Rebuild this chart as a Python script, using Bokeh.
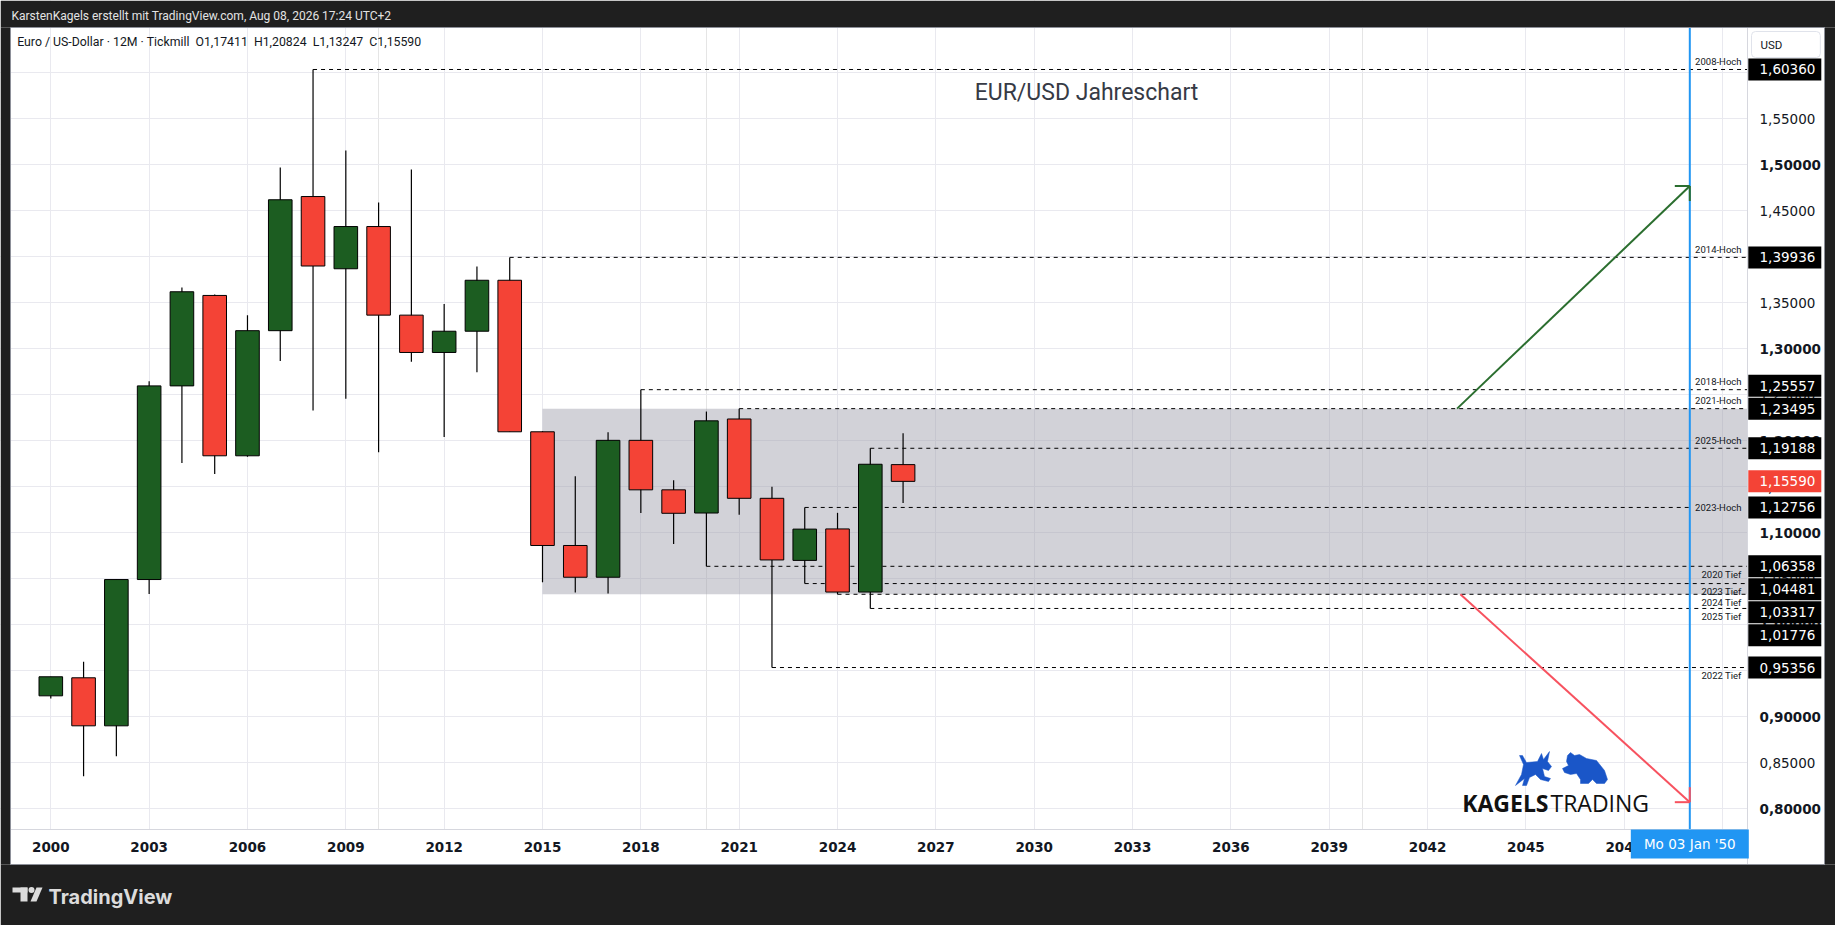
from bokeh.plotting import figure
from bokeh.models import Range1d, FixedTicker, Grid, Label
from bokeh.core.properties import value
from bokeh.embed import file_html
from bokeh.resources import INLINE

# ---------------- data (yearly EUR/USD candles) ----------------
YEARS = list(range(2000, 2027))
OPEN = [0.9228, 0.9424, 0.8902, 1.0492, 1.2597, 1.3580, 1.1837, 1.3197, 1.4655, 1.3870,
        1.4329, 1.3366, 1.2960, 1.3191, 1.3745, 1.2098, 1.0862, 1.0517, 1.2005, 1.1467,
        1.1215, 1.2237, 1.1375, 1.0700, 1.1042, 1.0356, 1.17411]
HIGH = [0.9435, 0.9598, 1.0493, 1.2647, 1.3667, 1.3590, 1.3366, 1.4971, 1.60360, 1.5155,
        1.4590, 1.4949, 1.3487, 1.3894, 1.39936, 1.2105, 1.1616, 1.2092, 1.25557, 1.1570,
        1.2318, 1.23495, 1.1500, 1.12756, 1.1217, 1.19188, 1.20824]
LOW = [0.9200, 0.8354, 0.8572, 1.0335, 1.1760, 1.1640, 1.1827, 1.2867, 1.2330, 1.2457,
       1.1876, 1.2860, 1.2042, 1.2746, 1.2098, 1.0462, 1.0352, 1.0340, 1.1216, 1.0879,
       1.06358, 1.1195, 0.95356, 1.04481, 1.03317, 1.01776, 1.13247]
CLOSE = [0.9435, 0.8902, 1.0492, 1.2597, 1.3620, 1.1837, 1.3197, 1.4620, 1.3900, 1.4329,
         1.3366, 1.2960, 1.3191, 1.3745, 1.2098, 1.0862, 1.0517, 1.2005, 1.1467, 1.1212,
         1.2217, 1.1375, 1.0705, 1.1040, 1.0356, 1.1745, 1.15590]

X_TICKS = list(range(2000, 2052, 3))
Y_TICKS = [0.80, 0.85, 0.90, 0.95, 1.00, 1.05, 1.10, 1.15, 1.20, 1.25,
           1.30, 1.35, 1.40, 1.45, 1.50, 1.55, 1.60]

LEVEL_YEARS = [2008, 2014, 2018, 2021, 2025, 2023, 2020, 2023, 2024, 2025, 2022]
LEVEL_VALUES = [1.60360, 1.39936, 1.25557, 1.23495, 1.19188, 1.12756,
                1.06358, 1.04481, 1.03317, 1.01776, 0.95356]
LEVEL_NAMES = ["2008-Hoch", "2014-Hoch", "2018-Hoch", "2021-Hoch", "2025-Hoch", "2023-Hoch",
               "2020 Tief", "2023 Tief", "2024 Tief", "2025 Tief", "2022 Tief"]
LEVEL_SIDE = ["above", "above", "above", "above", "above", "middle",
              "below", "below", "below", "below", "below"]

ZONE_START_YEAR = 2015
ZONE_TOP = 1.23495
ZONE_BOTTOM = 1.03317

MARKER_YEAR = 2050
MARKER_TEXT = "Mo 03 Jan '50"

ARROW_UP = (2042.9, 1.23495, 2050.0, 1.4770)
ARROW_DOWN = (2043.0, 1.03317, 2050.0, 0.8072)

HEADER = "KarstenKagels erstellt mit TradingView.com, Aug 08, 2026 17:24 UTC+2"
CHART_TITLE = "EUR/USD Jahreschart"
SYMBOL = "Euro / US-Dollar \u00b7 12M \u00b7 Tickmill"
CURRENCY = "USD"

# ---------------- page geometry ----------------
W, H = 1835, 925
X_START, X_END = 1998.4655, 2054.4446
Y_START, Y_END = 0.67315, 1.67859
PPX = W / (X_END - X_START)
PPY = H / (Y_END - Y_START)
# chart panel edges in page pixels
CL, CT, CR, CB = 10, 27, 1747, 829      # plotting area
AR, AB = 1824, 864                      # outer edge of price / time scales


def ax(px):
    return X_START + px / PPX


def ay(py):
    return Y_END - py / PPY


def fmt(v):
    return f"{v:.5f}".replace(".", ",")


DARK = "#1f1f1f"
GREEN = "#1c5d21"
RED = "#f44336"
TEXT = "#131722"
GRID = "#e9e9ef"
AXIS = "#d6d7de"
BLUE = "#2196f3"
ARROW_G = "#2b6e2f"
ARROW_R = "#f7525f"
MONO = value("DejaVu Sans")
NARROW = value("'Liberation Sans Narrow', Roboto")

p = figure(width=W, height=H, x_range=Range1d(X_START, X_END),
           y_range=Range1d(Y_START, Y_END), min_border=0,
           x_axis_location=None, y_axis_location=None,
           output_backend="svg", toolbar_location=None,
           background_fill_color="white", border_fill_color=DARK,
           outline_line_color=None)

p.add_layout(Grid(dimension=0, ticker=FixedTicker(ticks=X_TICKS), grid_line_color=GRID))
p.add_layout(Grid(dimension=1, ticker=FixedTicker(ticks=Y_TICKS), grid_line_color=GRID))

# zone
p.quad(left=[ZONE_START_YEAR], right=[ax(CR)], top=[ZONE_TOP], bottom=[ZONE_BOTTOM],
       fill_color="#9c9ca8", fill_alpha=0.45, line_color=None)

# horizontal level rays
level_ends = [MARKER_YEAR if s == "middle" else ax(CR) for s in LEVEL_SIDE]
p.segment(x0=LEVEL_YEARS, y0=LEVEL_VALUES, x1=level_ends, y1=LEVEL_VALUES,
          line_color="black", line_width=1, line_dash="4 4")
side_off = {"above": -8, "middle": 0, "below": 8}
p.text(x=[ax(CR - 6)] * len(LEVEL_NAMES), y=LEVEL_VALUES, text=LEVEL_NAMES,
       y_offset=[side_off[s] for s in LEVEL_SIDE], text_align="right", text_baseline="middle",
       text_font=value("Roboto"), text_font_size="9.5px", text_color=TEXT)

# candles
p.segment(x0=YEARS, y0=LOW, x1=YEARS, y1=HIGH, line_color="black", line_width=1.2)
tops = [max(o, c) for o, c in zip(OPEN, CLOSE)]
bots = [min(o, c) for o, c in zip(OPEN, CLOSE)]
cols = [GREEN if c >= o else RED for o, c in zip(OPEN, CLOSE)]
p.vbar(x=YEARS, width=0.72, top=tops, bottom=bots, fill_color=cols,
       line_color="black", line_width=1)

# vertical date marker line
p.segment(x0=[MARKER_YEAR], y0=[ay(CT)], x1=[MARKER_YEAR], y1=[ay(CB)],
          line_color=BLUE, line_width=2)

# arrows
for (x0, y0, x1, y1), col in ((ARROW_UP, ARROW_G), (ARROW_DOWN, ARROW_R)):
    sx = 1 if x1 > x0 else -1
    sy = 1 if y1 > y0 else -1
    L = 15
    p.segment(x0=[x0, x1, x1], y0=[y0, y1, y1],
              x1=[x1, x1 - sx * L / PPX, x1], y1=[y1, y1, y1 - sy * L / PPY],
              line_color=col, line_width=2)

# texts inside chart
last = -1
gap = "\u00a0\u00a0"
legend = (f"{SYMBOL}{gap}O{fmt(OPEN[last])}{gap}H{fmt(HIGH[last])}{gap}"
          f"L{fmt(LOW[last])}{gap}C{fmt(CLOSE[last])}")
p.text(x=[ax(16.7)], y=[ay(41.7)], text=[legend], text_baseline="middle",
       text_font=NARROW, text_font_size="12.3px", text_color=TEXT)
p.text(x=[ax(1086)], y=[ay(92)], text=[CHART_TITLE], text_align="center",
       text_baseline="middle", text_font=value("Roboto"), text_font_size="23px",
       text_color="#363a45")

# logo
p.text(x=[ax(1461.7)], y=[ay(802)], text=["KAGELS"], text_baseline="middle",
       text_font=value("Open Sans"), text_font_size="23px", text_font_style="bold",
       text_color="#111111")
p.text(x=[ax(1550)], y=[ay(802)], text=["TRADING"], text_baseline="middle",
       text_font=value("Open Sans"), text_font_size="23px", text_color="#111111")
BULL = [(2, 35), (8, 24), (10, 14), (6, 5), (9, 5), (13, 12), (24, 11), (28, 3), (30, 9),
        (36, 1), (34, 11), (38, 16), (35, 20), (29, 18), (31, 26), (37, 28), (35, 31),
        (27, 29), (22, 24), (16, 27), (13, 35), (9, 35), (11, 28)]
BEAR = [(0, 16), (6, 13), (4, 9), (5, 3), (8, 0), (12, 3), (17, 2), (24, 6), (34, 8),
        (42, 18), (45, 27), (42, 31), (34, 31), (30, 27), (26, 31), (18, 31), (18, 27),
        (14, 21), (8, 22), (2, 20)]
p.patches(xs=[[ax(1513 + a) for a, b in BULL], [ax(1562 + a) for a, b in BEAR]],
          ys=[[ay(750 + b) for a, b in BULL], [ay(752 + b) for a, b in BEAR]],
          fill_color="#1a56c8", line_color="#1a56c8", line_width=0.5)

# ---------------- frame: dark surround, scales ----------------
p.quad(left=[ax(0), ax(0), ax(0), ax(AR)], right=[ax(W), ax(W), ax(CL), ax(W)],
       top=[ay(0), ay(AB), ay(CT), ay(CT)], bottom=[ay(CT), ay(H), ay(AB), ay(AB)],
       fill_color=DARK, line_color=None)
p.quad(left=[ax(CR), ax(CL)], right=[ax(AR), ax(CR)], top=[ay(CT), ay(CB)],
       bottom=[ay(AB), ay(AB)], fill_color="white", line_color=None)
p.segment(x0=[ax(CR), ax(CL)], y0=[ay(CT), ay(CB)], x1=[ax(CR), ax(CR)], y1=[ay(AB), ay(CB)],
          line_color=AXIS, line_width=1)
p.quad(left=[ax(CL)], right=[ax(AR)], top=[ay(CT)], bottom=[ay(AB)],
       fill_color=None, line_color="#8d9099", line_width=1)

# price scale labels
major = [v for v in Y_TICKS if round(v * 100) % 10 == 0]
minor = [v for v in Y_TICKS if round(v * 100) % 10 != 0]
p.text(x=[ax(1759)] * len(major), y=major, text=[fmt(v) for v in major],
       text_baseline="middle", text_font=MONO, text_font_size="13.5px",
       text_font_style="bold", text_color=TEXT)
p.text(x=[ax(1759)] * len(minor), y=minor, text=[fmt(v) for v in minor],
       text_baseline="middle", text_font=MONO, text_font_size="13.5px", text_color=TEXT)

# time scale labels
p.text(x=X_TICKS, y=[ay(846.5)] * len(X_TICKS), text=[str(t) for t in X_TICKS],
       text_align="center", text_baseline="middle", text_font=MONO,
       text_font_size="13.5px", text_font_style="bold", text_color=TEXT)

# price labels on the scale (stacked away from current price)
GAP = 23
cur = CLOSE[last]


def sy_of(v):
    return (Y_END - v) * PPY


placed = {cur: sy_of(cur)}
prev = sy_of(cur)
for v in sorted([v for v in LEVEL_VALUES if v > cur]):
    s = min(sy_of(v), prev - GAP)
    placed[v] = s
    prev = s
prev = sy_of(cur)
for v in sorted([v for v in LEVEL_VALUES if v < cur], reverse=True):
    s = max(sy_of(v), prev + GAP)
    placed[v] = s
    prev = s
vals = list(placed.keys())
ys = [ay(placed[v]) for v in vals]
p.rect(x=[ax(1784.3)] * len(vals), y=ys, width=73, height=22,
       width_units="screen", height_units="screen",
       fill_color=[RED if v == cur else "black" for v in vals], line_color=None)
p.text(x=[ax(1759)] * len(vals), y=ys, text=[fmt(v) for v in vals],
       text_baseline="middle", text_font=MONO, text_font_size="13.5px", text_color="white")

# currency box
p.add_layout(Label(x=ax(1751), y=ay(44), text=CURRENCY, text_align="left",
                   text_baseline="middle", text_font="Roboto", text_font_size="11.5px",
                   text_color=TEXT, background_fill_color="white",
                   border_line_color="#e0e3eb", border_radius=4,
                   padding=dict(left=9, right=38, top=6, bottom=6)))

# date marker box
p.rect(x=[MARKER_YEAR], y=[ay(843.5)], width=118, height=29,
       width_units="screen", height_units="screen", fill_color=BLUE, line_color=None)
p.text(x=[MARKER_YEAR], y=[ay(843.5)], text=[MARKER_TEXT], text_align="center",
       text_baseline="middle", text_font=MONO, text_font_size="13.5px", text_color="white")

# header and footer
p.text(x=[ax(11)], y=[ay(15)], text=[HEADER], text_baseline="middle",
       text_font=NARROW, text_font_size="12px", text_color="#e3e3e3")
FOOT = "#dcdcdc"
p.quad(left=[ax(12), ax(20)], right=[ax(27), ax(27)], top=[ay(887), ay(887)],
       bottom=[ay(892), ay(901)], fill_color=FOOT, line_color=None)
p.scatter(x=[ax(31)], y=[ay(889.5)], size=6, fill_color=FOOT, line_color=None)
p.patch(x=[ax(36), ax(42), ax(36), ax(30)], y=[ay(887), ay(887), ay(901), ay(901)],
        fill_color=FOOT, line_color=None)
p.text(x=[ax(48)], y=[ay(896)], text=["TradingView"], text_baseline="middle",
       text_font=value("Inter"), text_font_size="20px", text_font_style="bold",
       text_color=FOOT)

open("out.html", "w").write(file_html(p, INLINE))
